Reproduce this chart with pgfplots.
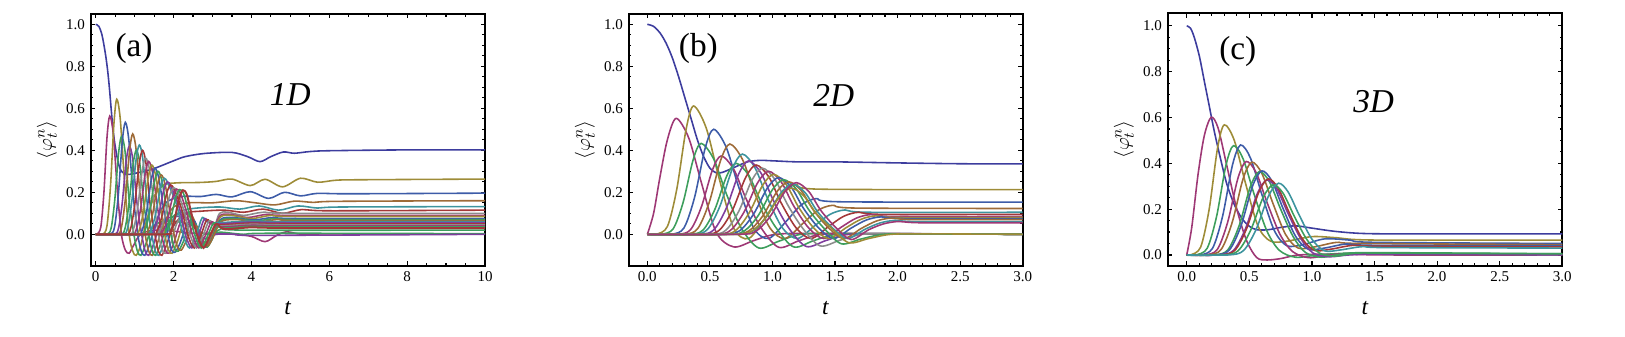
\documentclass[border=0pt]{standalone}
\usepackage{pgfplots}
\pgfplotsset{compat=1.18}
\usepackage{fontspec}
\setmainfont{Liberation Serif}

% Mathematica-style default plot colours
\definecolor{mblue}{rgb}{0.24,0.24,0.62}
\definecolor{mmag}{rgb}{0.62,0.22,0.46}
\definecolor{molive}{rgb}{0.62,0.55,0.22}
\definecolor{mblue2}{rgb}{0.24,0.36,0.66}
\definecolor{mgreen}{rgb}{0.24,0.62,0.36}
\definecolor{mbrown}{rgb}{0.62,0.42,0.22}
\definecolor{mteal}{rgb}{0.24,0.58,0.62}
\definecolor{mpurple}{rgb}{0.50,0.24,0.62}
\definecolor{mred}{rgb}{0.64,0.22,0.22}
\definecolor{mgrey}{rgb}{0.55,0.55,0.55}

\tikzset{big/.style={font=\fontsize{20}{20}\selectfont}}
\pgfplotsset{
  panel/.style={
    scale only axis, anchor=south west,
    axis line style={line width=1.3pt},
    major tick length=2.6pt, minor tick length=1.6pt,
    every tick/.style={black, line width=0.7pt},
    tick label style={font=\fontsize{9}{9}\selectfont},
    ytick={0,0.2,0.4,0.6,0.8,1}, yticklabels={0.0,0.2,0.4,0.6,0.8,1.0},
    minor y tick num=3,
    xlabel={\textit{t}},
    xlabel style={at={(axis description cs:0.5,-0.168)}, anchor=center, font=\fontsize{14}{14}\selectfont},
    ylabel={$\langle\varphi_t^{n}\rangle$},
    ylabel style={at={(axis description cs:-0.111,0.5)}, anchor=center, font=\fontsize{13}{13}\selectfont},
  },
  cv/.style={smooth, line width=0.95pt},
}

\begin{document}
\begin{tikzpicture}
\useasboundingbox (0,0) rectangle (975pt,201.6pt);

% ---------------- (a) 1D ----------------
\begin{axis}[panel, at={(54.42pt,42.18pt)}, width=236.58pt, height=151.02pt,
  xmin=-0.129, xmax=10, ymin=-0.1495, ymax=1.049,
  xtick={0,2,4,6,8,10}, xticklabels={0,2,4,6,8,10}, minor x tick num=3]
\addplot[cv,mblue] coordinates {(0,1.0)(0.08,0.99)(0.16,0.95)(0.24,0.87)(0.3,0.79)(0.35,0.7)(0.4,0.59)(0.45,0.49)(0.5,0.42)(0.58,0.34)(0.66,0.3)(0.8,0.285)(1.0,0.29)(1.45,0.31)(2.0,0.35)(2.3,0.37)(2.8,0.385)(3.5,0.39)(3.9,0.37)(4.22,0.346)(4.5,0.37)(4.82,0.392)(5.1,0.386)(5.5,0.394)(6.0,0.398)(8,0.402)(10,0.402)};
\addplot[cv,mmag] coordinates {(0,0)(0.03,0)(0.13,0.034)(0.21,0.197)(0.29,0.462)(0.36,0.563)(0.45,0.48)(0.56,0.2)(0.66,0.0)(0.76,-0.075)(0.86,-0.09)(0.98,-0.05)(1.15,0.0)(1.5,0.02)(2.0,0.015)(2.5,0.005)(3.0,0.005)(3.6,0.0)(4.0,-0.01)(4.35,-0.035)(4.65,-0.005)(4.9,0.012)(5.3,0.0)(6,0.002)(10,0.002)};
\addplot[cv,molive] coordinates {(0,0)(0.18,0)(0.288,0.039)(0.378,0.225)(0.468,0.527)(0.54,0.643)(0.63,0.55)(0.74,0.25)(0.86,0.0)(0.95,-0.08)(1.04,-0.1)(1.16,-0.05)(1.3,0.06)(1.5,0.18)(1.75,0.235)(2.1,0.245)(2.7,0.247)(3.1,0.252)(3.5,0.263)(3.97,0.232)(4.35,0.262)(4.8,0.226)(5.26,0.267)(5.7,0.248)(6.2,0.258)(7,0.26)(10,0.263)};
\addplot[cv,mgreen] coordinates {(0,0)(0.28,0)(0.394,0.028)(0.489,0.163)(0.584,0.381)(0.66,0.465)(0.75,0.4)(0.86,0.16)(0.98,0.0)(1.07,-0.08)(1.16,-0.1)(1.28,-0.05)(1.45,0.03)(1.7,0.06)(2.1,0.06)(2.5,0.04)(2.8,0.0)(3.2,0.01)(3.8,0.0)(4.5,0.005)(10,0.003)};
\addplot[cv,mblue2] coordinates {(0,0)(0.36,0)(0.48,0.032)(0.58,0.187)(0.68,0.437)(0.76,0.533)(0.85,0.45)(0.96,0.19)(1.08,0.0)(1.17,-0.08)(1.26,-0.1)(1.38,-0.05)(1.55,0.06)(1.8,0.15)(2.2,0.18)(2.7,0.18)(3.1,0.19)(3.5,0.178)(3.97,0.203)(4.44,0.171)(4.85,0.2)(5.26,0.183)(5.7,0.195)(6.5,0.193)(10,0.196)};
\addplot[cv,mpurple] coordinates {(0,0)(0.46,0)(0.58,0.025)(0.68,0.147)(0.78,0.344)(0.86,0.42)(0.95,0.36)(1.06,0.15)(1.18,0.0)(1.27,-0.08)(1.36,-0.1)(1.48,-0.05)(1.65,0.04)(1.9,0.08)(2.3,0.08)(2.6,0.02)(2.8,-0.02)(3.1,0.0)(3.6,0.0)(4.2,-0.005)(10,0.0)};
\addplot[cv,mbrown] coordinates {(0,0)(0.53,0)(0.656,0.029)(0.761,0.167)(0.866,0.392)(0.95,0.478)(1.04,0.4)(1.15,0.17)(1.27,0.0)(1.36,-0.08)(1.45,-0.1)(1.57,-0.05)(1.75,0.05)(2.0,0.13)(2.4,0.15)(3.0,0.15)(3.6,0.16)(4.1,0.15)(4.6,0.14)(5.1,0.158)(5.6,0.152)(6.2,0.157)(10,0.16)};
\addplot[cv,mgreen] coordinates {(0,0)(0.62,0)(0.746,0.024)(0.851,0.14)(0.956,0.328)(1.04,0.40)(1.13,0.34)(1.24,0.14)(1.36,0.0)(1.45,-0.08)(1.54,-0.1)(1.66,-0.05)(1.85,0.05)(2.1,0.1)(2.4,0.09)(2.6,0.02)(2.8,-0.04)(3.0,0.0)(3.3,0.03)(3.8,0.02)(10,0.02)};
\addplot[cv,mteal] coordinates {(0,0)(0.68,0)(0.812,0.026)(0.922,0.149)(1.032,0.349)(1.12,0.425)(1.21,0.36)(1.32,0.15)(1.44,0.0)(1.53,-0.08)(1.62,-0.1)(1.74,-0.05)(1.92,0.05)(2.2,0.11)(2.6,0.125)(3.2,0.13)(3.7,0.12)(4.2,0.135)(4.7,0.115)(5.2,0.135)(5.7,0.125)(6.3,0.13)(10,0.132)};
\addplot[cv,mred] coordinates {(0,0)(0.76,0)(0.892,0.024)(1.002,0.14)(1.112,0.328)(1.20,0.40)(1.29,0.34)(1.40,0.14)(1.52,0.0)(1.61,-0.08)(1.70,-0.1)(1.82,-0.05)(2.0,0.04)(2.3,0.1)(2.7,0.11)(3.3,0.115)(3.8,0.105)(4.3,0.12)(4.8,0.1)(5.3,0.118)(6,0.112)(10,0.115)};
\addplot[cv,mgrey] coordinates {(0,0)(0.83,0)(0.965,0.022)(1.078,0.127)(1.19,0.298)(1.28,0.363)(1.38,0.31)(1.50,0.145)(1.61,0.0)(1.71,-0.075)(1.80,-0.09)(1.93,-0.04)(2.08,0.05)(2.25,0.1)(2.42,0.1)(2.58,0.03)(2.70,-0.04)(2.82,-0.06)(2.95,-0.02)(3.05,0.03)(3.18,0.1)(3.4,0.105)(3.8,0.09)(4.3,0.105)(5,0.1)(10,0.1)};
\addplot[cv,mmag] coordinates {(0,0)(0.90,0)(1.038,0.021)(1.153,0.121)(1.268,0.285)(1.36,0.347)(1.46,0.295)(1.58,0.139)(1.69,0.0)(1.79,-0.075)(1.88,-0.09)(2.01,-0.04)(2.16,0.05)(2.33,0.1)(2.45,0.095)(2.6,0.03)(2.72,-0.04)(2.83,-0.06)(2.96,-0.02)(3.05,0.03)(3.2,0.09)(3.45,0.095)(3.9,0.08)(4.4,0.095)(5.0,0.09)(10,0.09)};
\addplot[cv,molive] coordinates {(0,0)(0.98,0)(1.118,0.02)(1.233,0.116)(1.348,0.271)(1.44,0.33)(1.54,0.28)(1.66,0.132)(1.77,0.0)(1.87,-0.075)(1.96,-0.09)(2.09,-0.04)(2.24,0.05)(2.4,0.09)(2.5,0.08)(2.62,0.02)(2.74,-0.045)(2.84,-0.06)(2.97,-0.02)(3.07,0.03)(3.22,0.085)(3.5,0.09)(4.0,0.075)(4.5,0.09)(5.1,0.085)(10,0.085)};
\addplot[cv,mblue2] coordinates {(0,0)(1.05,0)(1.191,0.019)(1.309,0.11)(1.426,0.258)(1.52,0.315)(1.62,0.268)(1.74,0.126)(1.85,0.0)(1.95,-0.075)(2.04,-0.085)(2.17,-0.04)(2.32,0.04)(2.45,0.07)(2.55,0.06)(2.65,0.01)(2.76,-0.045)(2.86,-0.06)(2.99,-0.02)(3.09,0.03)(3.24,0.075)(3.55,0.08)(4.05,0.068)(4.55,0.08)(5.2,0.075)(10,0.075)};
\addplot[cv,mgreen] coordinates {(0,0)(1.12,0)(1.264,0.018)(1.384,0.105)(1.504,0.246)(1.60,0.30)(1.70,0.255)(1.82,0.12)(1.93,0.0)(2.03,-0.07)(2.12,-0.08)(2.25,-0.035)(2.4,0.04)(2.52,0.055)(2.64,0.02)(2.77,-0.045)(2.87,-0.06)(3.0,-0.02)(3.1,0.03)(3.25,0.07)(3.6,0.075)(4.1,0.063)(4.6,0.075)(5.2,0.07)(10,0.07)};
\addplot[cv,mbrown] coordinates {(0,0)(1.20,0)(1.344,0.017)(1.464,0.099)(1.584,0.232)(1.68,0.283)(1.78,0.24)(1.90,0.113)(2.01,0.0)(2.11,-0.065)(2.2,-0.075)(2.33,-0.03)(2.48,0.03)(2.58,0.04)(2.68,0.01)(2.78,-0.04)(2.88,-0.055)(3.0,-0.02)(3.12,0.03)(3.27,0.065)(3.65,0.07)(4.15,0.058)(4.65,0.07)(5.3,0.065)(10,0.065)};
\addplot[cv,mteal] coordinates {(0,0)(1.26,0)(1.41,0.016)(1.535,0.093)(1.66,0.219)(1.76,0.267)(1.86,0.24)(2.09,0.134)(2.24,0)(2.41,-0.065)(2.59,0.0)(2.74,0.08)(2.94,0.055)(4,0.063)(5,0.06)(10,0.06)};
\addplot[cv,mpurple] coordinates {(0,0)(1.34,0)(1.49,0.015)(1.615,0.088)(1.74,0.205)(1.84,0.25)(1.94,0.225)(2.15,0.125)(2.30,0)(2.47,-0.065)(2.65,0.0)(2.80,0.075)(3.0,0.05)(4,0.058)(5,0.055)(10,0.055)};
\addplot[cv,mred] coordinates {(0,0)(1.42,0)(1.57,0.014)(1.695,0.082)(1.82,0.193)(1.92,0.235)(2.02,0.212)(2.21,0.118)(2.36,0)(2.53,-0.065)(2.71,0.0)(2.86,0.07)(3.06,0.045)(4,0.053)(5,0.05)(10,0.05)};
\addplot[cv,mgrey] coordinates {(0,0)(1.48,0)(1.636,0.013)(1.766,0.078)(1.896,0.182)(2.00,0.222)(2.10,0.2)(2.27,0.111)(2.42,0)(2.59,-0.065)(2.77,0.0)(2.92,0.065)(3.12,0.04)(4,0.048)(5,0.045)(10,0.045)};
\addplot[cv,mmag] coordinates {(0,0)(1.56,0)(1.716,0.013)(1.846,0.075)(1.976,0.176)(2.08,0.215)(2.18,0.194)(2.33,0.108)(2.48,0)(2.65,-0.065)(2.83,0.0)(2.98,0.06)(3.18,0.035)(4,0.043)(5,0.04)(10,0.04)};
\addplot[cv,mgreen] coordinates {(0,0)(1.64,0)(1.796,0.013)(1.926,0.075)(2.056,0.175)(2.16,0.213)(2.26,0.192)(2.39,0.107)(2.54,0)(2.71,-0.065)(2.89,0.0)(3.04,0.055)(3.24,0.03)(4,0.038)(5,0.035)(10,0.035)};
\addplot[cv,mred,line width=1.2pt] coordinates {(0,0)(1.78,0)(1.92,0.013)(2.03,0.074)(2.14,0.172)(2.24,0.21)(2.34,0.189)(2.45,0.105)(2.60,0)(2.77,-0.065)(2.95,0.0)(3.1,0.05)(3.3,0.025)(4,0.033)(5,0.03)(10,0.03)};
\node[big] at (axis cs:0.985,0.886) {(a)};
\node[big] at (axis cs:5.0,0.667) {\textit{1D}};
\end{axis}

% ---------------- (b) 2D ----------------
\begin{axis}[panel, at={(377.22pt,42.18pt)}, width=236.4pt, height=151.02pt,
  xmin=-0.149, xmax=3.0, ymin=-0.1495, ymax=1.049,
  xtick={0,0.5,1,1.5,2,2.5,3}, xticklabels={0.0,0.5,1.0,1.5,2.0,2.5,3.0}, minor x tick num=4]
\addplot[cv,mblue] coordinates {(0,1.0)(0.05,0.99)(0.1,0.96)(0.15,0.91)(0.2,0.84)(0.25,0.75)(0.3,0.65)(0.35,0.55)(0.4,0.45)(0.45,0.37)(0.5,0.315)(0.55,0.293)(0.6,0.295)(0.7,0.32)(0.8,0.345)(0.9,0.352)(1.0,0.35)(1.2,0.345)(1.5,0.345)(2.0,0.34)(2.5,0.336)(3.0,0.335)};
\addplot[cv,mmag] coordinates {(0,0)(0.05,0.1)(0.1,0.27)(0.16,0.45)(0.23,0.552)(0.33,0.46)(0.43,0.25)(0.55,0.01)(0.69,-0.06)(0.85,-0.03)(1.03,0.0)(1.4,0.004)(3,0)};
\addplot[cv,molive] coordinates {(0,0)(0.07,0)(0.16,0.037)(0.235,0.214)(0.31,0.501)(0.37,0.611)(0.47,0.507)(0.57,0.275)(0.69,0.03)(0.81,-0.02)(0.95,0.086)(1.07,0.194)(1.19,0.237)(1.37,0.215)(3,0.213)};
\addplot[cv,mgreen] coordinates {(0,0)(0.11,0)(0.206,0.026)(0.286,0.152)(0.366,0.355)(0.43,0.433)(0.53,0.359)(0.63,0.195)(0.75,0.03)(0.89,-0.065)(1.05,-0.033)(1.23,0)(1.53,0.003)(3,0)};
\addplot[cv,mblue2] coordinates {(0,0)(0.19,0)(0.292,0.03)(0.377,0.175)(0.462,0.41)(0.53,0.5)(0.63,0.415)(0.73,0.225)(0.85,0.03)(0.97,-0.02)(1.11,0.062)(1.23,0.14)(1.35,0.17)(1.53,0.155)(3,0.153)};
\addplot[cv,mmag] coordinates {(0,0)(0.24,0)(0.345,0.022)(0.432,0.131)(0.52,0.306)(0.59,0.373)(0.69,0.31)(0.79,0.168)(0.91,0.03)(1.05,-0.062)(1.21,-0.031)(1.39,0)(1.69,0.003)(3,0)};
\addplot[cv,mbrown] coordinates {(0,0)(0.29,0)(0.401,0.026)(0.494,0.151)(0.586,0.353)(0.66,0.43)(0.76,0.357)(0.86,0.194)(0.98,0.03)(1.1,-0.02)(1.24,0.05)(1.36,0.113)(1.48,0.138)(1.66,0.125)(3,0.123)};
\addplot[cv,mgreen] coordinates {(0,0)(0.33,0)(0.444,0.02)(0.539,0.118)(0.634,0.277)(0.71,0.338)(0.81,0.281)(0.91,0.152)(1.03,0.03)(1.17,-0.06)(1.33,-0.03)(1.51,0)(1.81,0.003)(3,0)};
\addplot[cv,mteal] coordinates {(0,0)(0.36,0)(0.48,0.023)(0.58,0.134)(0.68,0.313)(0.76,0.382)(0.86,0.317)(0.96,0.172)(1.08,0.03)(1.2,-0.02)(1.34,0.042)(1.46,0.095)(1.58,0.116)(1.76,0.105)(3,0.105)};
\addplot[cv,mpurple] coordinates {(0,0)(0.41,0)(0.53,0.021)(0.63,0.123)(0.73,0.287)(0.81,0.35)(0.91,0.29)(1.01,0.158)(1.13,0.03)(1.27,-0.058)(1.43,-0.029)(1.61,0)(1.91,0.003)(3,0)};
\addplot[cv,mred] coordinates {(0,0)(0.45,0)(0.576,0.02)(0.681,0.116)(0.786,0.271)(0.87,0.33)(0.97,0.274)(1.07,0.149)(1.19,0.03)(1.31,-0.02)(1.45,0.038)(1.57,0.086)(1.69,0.105)(1.87,0.095)(3,0.095)};
\addplot[cv,mgrey] coordinates {(0,0)(0.5,0)(0.626,0.019)(0.731,0.11)(0.836,0.258)(0.92,0.315)(1.02,0.261)(1.12,0.142)(1.24,0.03)(1.38,-0.055)(1.54,-0.028)(1.72,0)(2.02,0.003)(3,0)};
\addplot[cv,mmag] coordinates {(0,0)(0.53,0)(0.662,0.018)(0.772,0.105)(0.882,0.246)(0.97,0.30)(1.07,0.249)(1.17,0.135)(1.29,0.03)(1.41,-0.02)(1.55,0.034)(1.67,0.077)(1.79,0.094)(1.97,0.085)(3,0.085)};
\addplot[cv,molive] coordinates {(0,0)(0.57,0)(0.702,0.017)(0.812,0.1)(0.922,0.234)(1.01,0.285)(1.11,0.237)(1.21,0.128)(1.33,0.03)(1.45,-0.02)(1.59,0.032)(1.71,0.072)(1.83,0.088)(2.01,0.08)(3,0.08)};
\addplot[cv,mblue2] coordinates {(0,0)(0.6,0)(0.735,0.016)(0.848,0.095)(0.96,0.221)(1.05,0.27)(1.15,0.224)(1.25,0.122)(1.37,0.03)(1.49,-0.02)(1.63,0.03)(1.75,0.068)(1.87,0.083)(2.05,0.075)(3,0.075)};
\addplot[cv,mgreen] coordinates {(0,0)(0.64,0)(0.775,0.016)(0.888,0.091)(1.0,0.213)(1.09,0.26)(1.19,0.216)(1.29,0.117)(1.41,0.03)(1.55,-0.045)(1.71,-0.022)(1.89,0)(2.19,0.002)(3,0)};
\addplot[cv,mbrown] coordinates {(0,0)(0.67,0)(0.808,0.015)(0.923,0.088)(1.038,0.205)(1.13,0.25)(1.23,0.208)(1.33,0.113)(1.45,0.03)(1.57,-0.02)(1.71,0.028)(1.83,0.063)(1.95,0.077)(2.13,0.07)(3,0.07)};
\addplot[cv,mteal] coordinates {(0,0)(0.7,0)(0.838,0.014)(0.953,0.084)(1.068,0.197)(1.16,0.24)(1.26,0.199)(1.36,0.108)(1.48,0.03)(1.6,-0.02)(1.74,0.024)(1.86,0.054)(1.98,0.066)(2.16,0.06)(3,0.06)};
\addplot[cv,molive] coordinates {(0,0)(0.69,0)(0.828,0.013)(0.943,0.077)(1.058,0.18)(1.15,0.22)(1.25,0.183)(1.35,0.099)(1.47,0.03)(1.61,-0.04)(1.77,-0.02)(1.95,0)(2.25,0.002)(3,0)};
\addplot[cv,mmag] coordinates {(0,0)(0.73,0)(0.868,0.015)(0.983,0.086)(1.098,0.202)(1.19,0.246)(1.29,0.204)(1.39,0.111)(1.51,0.03)(1.63,-0.025)(1.77,0.022)(1.89,0.05)(2.01,0.061)(2.19,0.055)(3,0.055)};
\node[big] at (axis cs:0.408,0.886) {(b)};
\node[big] at (axis cs:1.49,0.663) {\textit{2D}};
\end{axis}

% ---------------- (c) 3D ----------------
\begin{axis}[panel, at={(700.62pt,42.18pt)}, width=236.76pt, height=151.44pt,
  xmin=-0.152, xmax=3.0, ymin=-0.047, ymax=1.055,
  xtick={0,0.5,1,1.5,2,2.5,3}, xticklabels={0.0,0.5,1.0,1.5,2.0,2.5,3.0}, minor x tick num=4]
\addplot[cv,mblue] coordinates {(0,1.0)(0.03,0.99)(0.06,0.95)(0.1,0.87)(0.14,0.76)(0.18,0.65)(0.22,0.54)(0.27,0.42)(0.32,0.31)(0.38,0.22)(0.44,0.16)(0.5,0.125)(0.56,0.11)(0.65,0.11)(0.75,0.12)(0.87,0.127)(1.0,0.117)(1.2,0.102)(1.45,0.093)(2,0.092)(3,0.092)};
\addplot[cv,mmag] coordinates {(0,0)(0.04,0.12)(0.09,0.35)(0.14,0.52)(0.195,0.601)(0.25,0.555)(0.32,0.39)(0.4,0.2)(0.48,0.06)(0.56,-0.012)(0.64,-0.022)(0.75,-0.016)(0.9,0.0)(1.2,0.004)(1.6,0.0)(3,0.0)};
\addplot[cv,molive] coordinates {(0,0)(0.03,0)(0.111,0.034)(0.179,0.199)(0.246,0.466)(0.30,0.568)(0.38,0.5)(0.47,0.312)(0.57,0.125)(0.67,0.06)(0.8,0.06)(1.0,0.08)(1.2,0.075)(1.5,0.065)(3,0.065)};
\addplot[cv,mgreen] coordinates {(0,0)(0.073,0)(0.163,0.029)(0.238,0.167)(0.313,0.391)(0.373,0.477)(0.45,0.42)(0.54,0.262)(0.64,0.105)(0.74,0.02)(0.87,-0.01)(1.05,0.0)(1.3,0.008)(1.6,0.003)(3,0.002)};
\addplot[cv,mblue2] coordinates {(0,0)(0.11,0)(0.206,0.029)(0.286,0.168)(0.366,0.394)(0.43,0.48)(0.51,0.422)(0.60,0.264)(0.70,0.106)(0.80,0.04)(0.93,0.045)(1.1,0.07)(1.3,0.065)(1.5,0.055)(3,0.05)};
\addplot[cv,mmag] coordinates {(0,0)(0.145,0)(0.244,0.024)(0.327,0.143)(0.409,0.335)(0.475,0.408)(0.555,0.359)(0.645,0.224)(0.745,0.09)(0.845,0.015)(0.975,-0.012)(1.15,0.0)(1.4,0.006)(3,0.002)};
\addplot[cv,mbrown] coordinates {(0,0)(0.17,0)(0.275,0.024)(0.363,0.142)(0.45,0.332)(0.52,0.405)(0.6,0.356)(0.69,0.223)(0.79,0.089)(0.89,0.03)(1.02,0.035)(1.2,0.055)(1.4,0.05)(3,0.045)};
\addplot[cv,mgreen] coordinates {(0,0)(0.22,0)(0.328,0.022)(0.418,0.127)(0.508,0.298)(0.58,0.364)(0.66,0.32)(0.75,0.2)(0.85,0.08)(0.95,0.01)(1.08,-0.01)(1.25,0.005)(1.5,0.01)(3,0.005)};
\addplot[cv,mblue2] coordinates {(0,0)(0.23,0)(0.341,0.022)(0.434,0.128)(0.526,0.301)(0.60,0.367)(0.68,0.323)(0.77,0.202)(0.87,0.081)(0.97,0.025)(1.1,0.03)(1.28,0.048)(1.5,0.042)(3,0.04)};
\addplot[cv,mpurple] coordinates {(0,0)(0.26,0)(0.374,0.02)(0.469,0.114)(0.564,0.268)(0.64,0.327)(0.72,0.288)(0.81,0.18)(0.91,0.072)(1.01,0.008)(1.14,-0.008)(1.3,0.0)(1.6,0.004)(3,0.0)};
\addplot[cv,mred] coordinates {(0,0)(0.27,0)(0.384,0.02)(0.479,0.116)(0.574,0.272)(0.65,0.332)(0.73,0.292)(0.82,0.183)(0.92,0.073)(1.02,0.02)(1.15,0.025)(1.33,0.042)(1.55,0.038)(3,0.035)};
\addplot[cv,mgreen] coordinates {(0,0)(0.29,0)(0.41,0.018)(0.51,0.107)(0.61,0.251)(0.69,0.306)(0.77,0.269)(0.86,0.168)(0.96,0.067)(1.06,0.008)(1.19,-0.005)(1.35,0.008)(1.6,0.008)(3,0.005)};
\addplot[cv,mteal] coordinates {(0,0)(0.333,0)(0.453,0.019)(0.553,0.11)(0.653,0.257)(0.733,0.313)(0.81,0.275)(0.90,0.172)(1.0,0.069)(1.1,0.018)(1.23,0.022)(1.4,0.036)(1.6,0.032)(3,0.03)};
\node[big] at (axis cs:0.408,0.888) {(c)};
\node[big] at (axis cs:1.493,0.669) {\textit{3D}};
\end{axis}
\end{tikzpicture}
\end{document}
